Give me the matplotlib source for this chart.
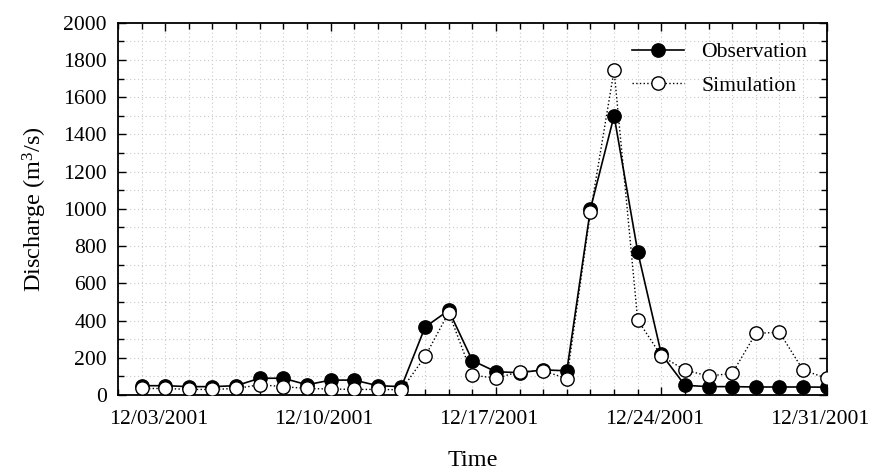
import matplotlib
matplotlib.use("Agg")
import matplotlib.pyplot as plt
import matplotlib.dates as mdates
import matplotlib.transforms as mtransforms
import pandas as pd
from matplotlib.ticker import MultipleLocator

plt.rcParams['font.family'] = ['Liberation Serif', 'DejaVu Serif']
plt.rcParams['mathtext.fontset'] = 'custom'
plt.rcParams['mathtext.rm'] = 'Liberation Serif'
plt.rcParams['mathtext.it'] = 'Liberation Serif:italic'

dates = pd.date_range('2001-12-02', '2001-12-31', freq='D')
observation = [50, 50, 45, 45, 50, 90, 90, 55, 80, 80, 50, 45,
               365, 455, 185, 125, 120, 135, 130, 1000, 1500, 770, 220,
               52, 45, 45, 43, 43, 43, 42]
simulation = [35, 35, 30, 30, 35, 55, 45, 35, 32, 30, 30, 28,
              207, 443, 107, 90, 125, 130, 88, 983, 1745, 403, 210,
              134, 102, 116, 331, 337, 134, 90]
tick_dates = ['2001-12-03', '2001-12-10', '2001-12-17', '2001-12-24', '2001-12-31']

fig = plt.figure(figsize=(8.69, 4.73), dpi=100)
ax = fig.add_axes([0.1358, 0.1649, 0.9513 - 0.1358, 0.952 - 0.1649])

ax.plot(dates, observation, '-o', color='black', lw=1.2, ms=9.6,
        mfc='black', mec='black', mew=1.0, label='Observation', zorder=3)
ax.plot(dates, simulation, ':o', color='black', lw=1.0, ms=9.6,
        mfc='white', mec='black', mew=1.0, label='Simulation', zorder=4)

ax.set_xlim(pd.Timestamp('2001-12-01'), pd.Timestamp('2001-12-31'))
ax.set_ylim(0, 2000)
ax.set_xticks(pd.to_datetime(tick_dates))
ax.xaxis.set_major_formatter(mdates.DateFormatter('%m/%d/%Y'))
ax.xaxis.set_minor_locator(mdates.DayLocator())
ax.yaxis.set_major_locator(MultipleLocator(200))
ax.yaxis.set_minor_locator(MultipleLocator(100))

ax.grid(True, which='both', color='#c8c8c8', linestyle=(0, (1, 2.5)), lw=0.8)
ax.set_axisbelow(True)

ax.tick_params(which='both', direction='in', top=True, right=True,
               labelsize=15.6, width=1.0)
ax.tick_params(axis='y', pad=8)
ax.tick_params(axis='x', pad=11)
ax.tick_params(which='major', length=6)
ax.tick_params(which='minor', length=4)
for s in ax.spines.values():
    s.set_linewidth(1.3)

offset = mtransforms.ScaledTranslation(-7 / 100, 0, fig.dpi_scale_trans)
for lab in ax.get_xticklabels():
    lab.set_transform(lab.get_transform() + offset)

ax.set_ylabel('Discharge (m$^3$/s)', fontsize=17.5, labelpad=10)
ax.set_xlabel('Time', fontsize=17.5, labelpad=15)

leg = ax.legend(loc='upper right', frameon=False, fontsize=15.6,
                handlelength=2.4, borderaxespad=0.5, labelspacing=0.6,
                bbox_to_anchor=(1.0, 1.0))

fig.savefig('out.png', dpi=100)
